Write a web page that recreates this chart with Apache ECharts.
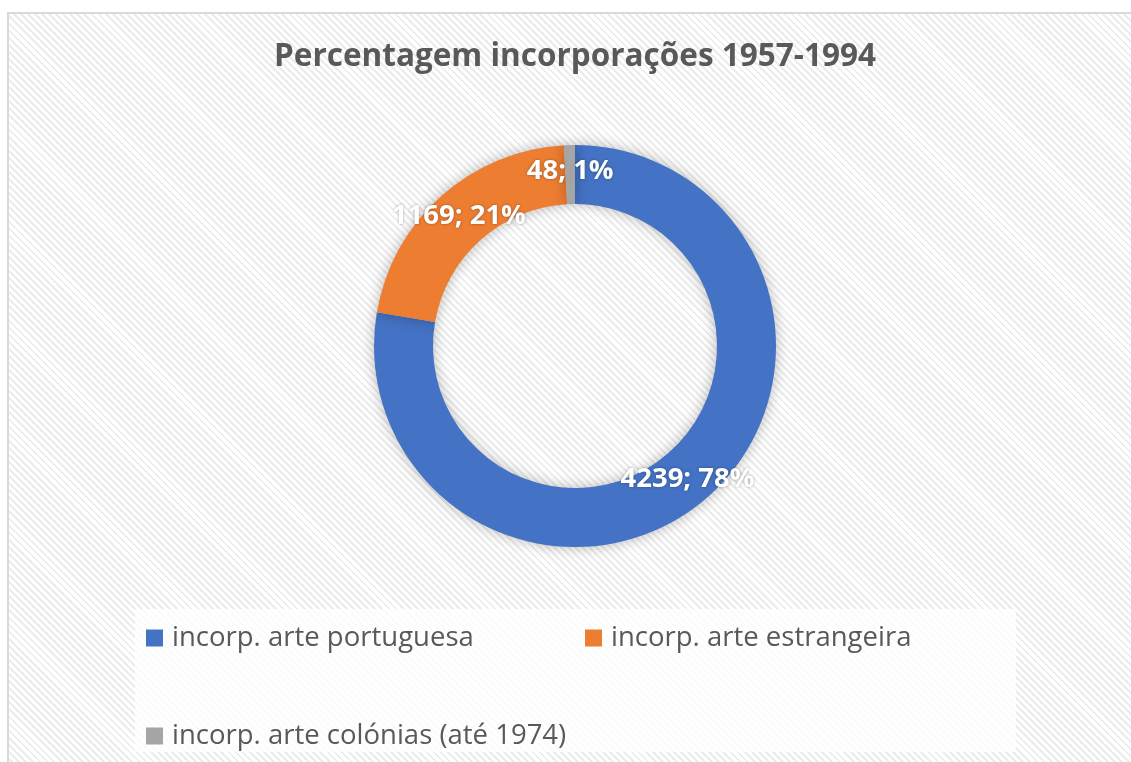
<!DOCTYPE html>
<html>
<head>
<meta charset="utf-8">
<script src="https://cdn.jsdelivr.net/npm/echarts@6/dist/echarts.min.js"></script>
<style>
    body { margin: 0; overflow: hidden; background: #fff; }
    .frame {
        position: absolute;
        left: 7px;
        top: 12px;
        width: 1200px;
        height: 800px;
        border: 2px solid #d9d9d9;
        background: repeating-linear-gradient(45deg, #ffffff 0 3px, #ececec 3px 5px);
    }
    #chart { position: absolute; left: 0; top: 0; width: 1131px; height: 762px; }
</style>
</head>
<body>
<div class="frame"></div>
<div id="chart"></div>
<script>
// categorias e valores
var categories = ['incorp. arte portuguesa', 'incorp. arte estrangeira', 'incorp. arte colónias (até 1974)']
var values = [4239, 1169, 48]
var colors = ['#4472C4', '#ED7D31', '#A5A5A5']

var chart = echarts.init(document.getElementById('chart'))

var pieData = []
for (let i = 0; i < categories.length; i++) {
    pieData.push({ name: categories[i], value: values[i] })
}

chart.setOption({
    backgroundColor: 'transparent',
    color: colors,
    title: {
        text: 'Percentagem incorporações 1957-1994',
        left: 575,
        top: 41,
        padding: 0,
        textAlign: 'center',
        textStyle: {
            fontFamily: 'Open Sans',
            fontSize: 31.5,
            fontWeight: 'bold',
            color: '#595959'
        }
    },
    graphic: [
        {
            type: 'rect',
            z: 1,
            shape: { x: 135, y: 609, width: 881, height: 143 },
            style: { fill: 'rgba(255,255,255,0.8)' }
        }
    ],
    legend: {
        left: 146,
        top: 624,
        width: 870,
        padding: 0,
        itemWidth: 17,
        itemHeight: 17,
        itemGap: 70,
        icon: 'rect',
        data: categories,
        textStyle: {
            fontFamily: 'Open Sans',
            fontSize: 27.5,
            color: '#595959',
            width: 343,
            padding: [0, 0, 0, 4],
            lineHeight: 25
        }
    },
    series: [
        {
            type: 'pie',
            center: [575, 346],
            radius: [142, 201],
            startAngle: 90,
            clockwise: true,
            percentPrecision: 0,
            avoidLabelOverlap: false,
            z: 2,
            itemStyle: {
                shadowBlur: 14,
                shadowColor: 'rgba(0,0,0,0.28)'
            },
            label: {
                show: true,
                position: 'inside',
                formatter: '{c}; {d}%',
                fontFamily: 'Open Sans',
                fontSize: 27.5,
                fontWeight: 'bold',
                color: '#ffffff',
                textShadowColor: 'rgba(0,0,0,0.35)',
                textShadowBlur: 3
            },
            labelLine: { show: false },
            emphasis: { disabled: true },
            data: pieData
        }
    ]
})
</script>
</body>
</html>
